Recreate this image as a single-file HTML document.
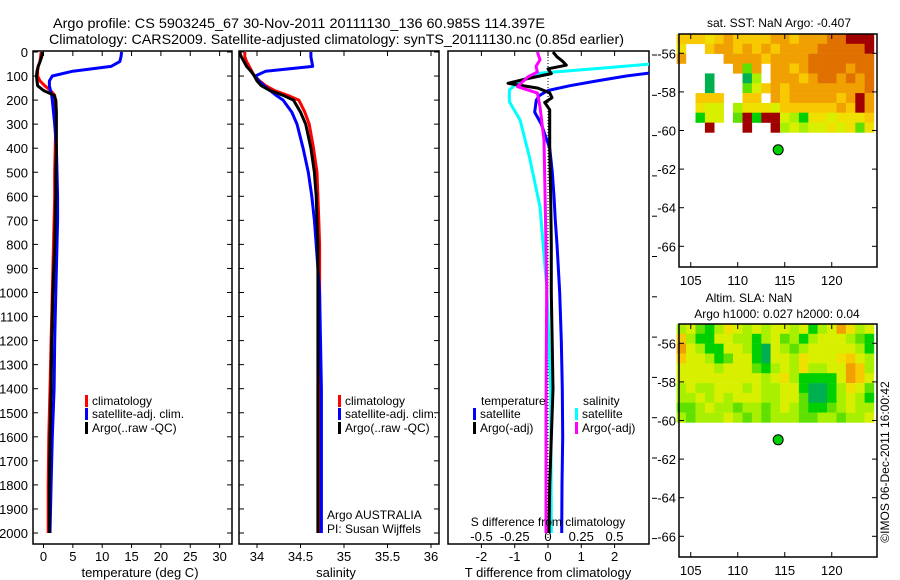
<!DOCTYPE html>
<html><head><meta charset="utf-8"><style>
html,body{margin:0;padding:0;background:#fff;}
svg{display:block;font-family:"Liberation Sans",sans-serif;}
</style></head><body>
<svg id="chart" width="900" height="580" viewBox="0 0 900 580" xmlns="http://www.w3.org/2000/svg">
<defs>
<clipPath id="c1"><rect x="33" y="51" width="199" height="493"/></clipPath>
<clipPath id="c2"><rect x="239" y="51" width="200" height="493"/></clipPath>
<clipPath id="c3"><rect x="448" y="51" width="201" height="493"/></clipPath>
</defs>
<text x="53" y="28" font-size="14" textLength="492" lengthAdjust="spacingAndGlyphs">Argo profile: CS 5903245_67 30-Nov-2011 20111130_136 60.985S 114.397E</text>
<text x="49" y="44" font-size="14" textLength="575" lengthAdjust="spacingAndGlyphs">Climatology: CARS2009. Satellite-adjusted climatology: synTS_20111130.nc (0.85d earlier)</text>
<g id="g1"></g><g id="g2"></g><g id="g3"></g><g id="gm"></g>
<text transform="translate(889,462) rotate(-90)" font-size="12" text-anchor="middle">©IMOS 06-Dec-2011 16:00:42</text>
</svg>
<script>
// ---- profile data ----
const depths = [0,20,40,60,80,100,120,140,160,180,200,250,300,400,500,600,700,800,1000,1200,1400,1600,1800,2000];
const tempClim = [-0.4,-0.5,-0.6,-0.9,-1.0,-1.0,-0.6,0.2,1.2,1.9,2.0,2.1,2.1,2.0,1.9,1.9,1.8,1.7,1.5,1.3,1.1,0.9,0.8,0.8];
const tempArgo = [-0.2,-0.3,-0.6,-0.9,-1.1,-1.2,-1.1,-1.0,0.0,1.8,2.1,2.2,2.2,2.2,2.1,2.1,2.0,1.9,1.6,1.4,1.3,1.1,1.0,1.0];
const tempSat = [13.3,13.2,13.0,11.5,5.0,1.5,1.0,1.0,1.2,1.4,1.5,1.7,1.9,2.2,2.3,2.4,2.4,2.3,2.1,1.9,1.8,1.5,1.3,1.1];
const salClim = [33.86,33.86,33.88,33.91,33.94,33.97,34.03,34.1,34.2,34.35,34.48,34.55,34.6,34.65,34.69,34.7,34.71,34.72,34.72,34.72,34.72,34.71,34.71,34.71];
const salArgo = [33.8,33.82,33.85,33.88,33.93,33.97,34.0,34.05,34.15,34.3,34.42,34.5,34.56,34.62,34.66,34.68,34.69,34.7,34.7,34.7,34.7,34.7,34.7,34.7];
const salSat = [34.62,34.62,34.63,34.64,34.1,33.98,34.02,34.08,34.15,34.22,34.3,34.4,34.46,34.53,34.59,34.63,34.66,34.68,34.72,34.73,34.74,34.74,34.74,34.74];
const dTSat = [9,9,9,6,3.5,2.35,1.47,0.66,0,-0.25,-0.35,-0.4,-0.2,0.05,0.13,0.18,0.22,0.27,0.35,0.4,0.43,0.44,0.42,0.41];
const dArgoDepths = [0,20,40,55,70,90,110,130,150,170,190,210,240,300,400,600,800,1000,1400,1800,2000];
const dTArgo = [0.15,0.27,0.45,0.55,0.0,0.1,-0.6,-1.2,-0.3,0.05,0.12,-0.1,0.05,0.05,0.05,0.08,0.1,0.1,0.15,0.05,0.03];
const dSSatDepths = [0,30,50,70,89,124,158,207,283,436,644,978,1400,2000];
const dSSat = [1.5,1.2,0.77,0.35,-0.08,-0.22,-0.29,-0.29,-0.21,-0.14,-0.06,-0.01,0.02,0.025];
const dSArgoDepths = [0,33,60,83,103,144,171,228,366,644,978,1500,2000];
const dSArgo = [-0.08,-0.06,-0.09,-0.08,-0.15,-0.23,-0.08,-0.06,-0.03,-0.02,-0.01,-0.015,-0.015];
const depthTicks = [0,100,200,300,400,500,600,700,800,900,1000,1100,1200,1300,1400,1500,1600,1700,1800,1900,2000];
const tempTicks = [0,5,10,15,20,25,30];
const salTicks = [34,34.5,35,35.5,36];
const dTTicks = [-2,-1,0,1,2];
const dSTicks = [-0.5,-0.25,0,0.25,0.5];
// ---- map data (rows lat -55 .. -60 step 0.5, cols lon 104..124) ----
const mapLons = [104,105,106,107,108,109,110,111,112,113,114,115,116,117,118,119,120,121,122,123,124];
const mapLatTicks = [-56,-58,-60,-62,-64,-66];
const mapLonTicks = [105,110,115,120];
const argoLon = 114.3, argoLat = -61;
const sstGrid = [
[6,6,6,5,6,7,6,6,6,6,7,7,6,7,7,7,8,8,9,9,9],
[5,-1,-1,6,7,7,6,7,6,7,6,7,7,7,7,8,8,8,8,8,9],
[7,-1,-1,-1,-1,7,7,7,7,6,7,7,7,7,8,8,8,8,8,8,8],
[-1,-1,-1,-1,-1,-1,7,2,7,-1,7,7,6,7,8,8,8,8,7,8,8],
[-1,-1,-1,0,-1,-1,-1,0,3,-1,7,7,7,6,7,8,8,7,8,7,8],
[-1,-1,-1,0,-1,-1,-1,2,4,6,7,6,7,7,7,7,7,7,7,7,8],
[-1,-1,6,6,6,-1,-1,6,6,-1,7,6,7,7,7,7,7,6,7,9,7],
[-1,-1,5,4,4,-1,3,5,5,5,4,6,6,6,6,6,6,7,6,9,7],
[-1,-1,1,4,4,-1,2,9,1,9,9,4,3,1,5,5,4,5,5,5,6],
[-1,-1,-1,9,-1,-1,-1,9,-1,-1,9,3,4,3,4,4,5,4,5,2,5]];
const slaGrid = [
[3,4,2,1,3,5,4,3,4,3,4,4,3,4,1,3,4,7,5,3,4],
[6,3,1,1,4,4,3,3,1,3,4,2,3,1,3,4,4,4,3,2,1],
[7,4,3,1,1,4,4,3,1,0,4,3,2,3,4,4,4,4,4,3,1],
[6,4,4,3,1,2,4,4,1,0,4,4,3,5,4,4,4,5,6,4,3],
[4,4,4,4,3,4,4,4,2,1,3,4,3,5,3,3,4,4,7,6,3],
[4,4,4,4,4,4,4,4,4,3,4,5,3,1,1,1,1,4,7,6,4],
[3,4,3,3,4,4,4,3,4,3,3,4,4,1,0,0,1,3,5,4,2],
[3,3,4,3,4,3,4,4,4,3,3,4,4,2,0,0,1,3,4,3,1],
[2,2,3,4,3,3,2,3,3,2,3,4,3,2,1,1,2,3,4,3,3],
[3,2,3,3,3,4,3,2,3,2,3,3,3,2,2,3,3,2,3,3,4]];
const palette = ['#00b050','#00d000','#60e000','#a8f000','#d8f000','#f0e000','#f8c800','#f0a000','#e07000','#a00000'];

const NS='http://www.w3.org/2000/svg';
function el(parent,tag,attrs,txt){const e=document.createElementNS(NS,tag);for(const k in attrs)e.setAttribute(k,attrs[k]);if(txt!==undefined)e.textContent=txt;parent.appendChild(e);return e;}
const TOP=51,BOT=544;
function yD(d){return 52+d*0.2405;}
function xT(t){return 43.5+t*5.87;}
function xS(s){return 257+(s-34)*87;}
function xDT(v){return 548+v*33.3;}
function xDS(v){return 548+v*133;}

function panel(g,x0,x1,name){
  const r=el(g,'rect',{x:x0,y:TOP,width:x1-x0,height:BOT-TOP,fill:'none',stroke:'#000','stroke-width':1.5});
  
  
  for(const d of depthTicks){
    const y=yD(d);
    el(g,'line',{x1:x0,x2:x0+5,y1:y,y2:y,stroke:'#000'});
    el(g,'line',{x1:x1-5,x2:x1,y1:y,y2:y,stroke:'#000'});
  }
}
function line(g,xs,ds,fx,color,clip,name,w){
  const pts=xs.map((v,i)=>fx(v).toFixed(1)+','+yD(ds[i]).toFixed(1)).join(' ');
  const p=el(g,'polyline',{points:pts,fill:'none',stroke:color,'stroke-width':w||3,'clip-path':'url(#'+clip+')','stroke-linejoin':'round'});
  
  
}
function xticks(g,ticks,fx,y,name,top){
  for(const t of ticks){
    const x=fx(t);
    el(g,'line',{x1:x,x2:x,y1:BOT,y2:BOT+4,stroke:'#000'});
    if(top) el(g,'line',{x1:x,x2:x,y1:TOP,y2:TOP+5,stroke:'#000'});
    const tx=el(g,'text',{x:x,y:y,'font-size':13,'text-anchor':'middle'},String(t));
    
    
  }
}
function legend(g,x,y,color,label){
  el(g,'rect',{x:x,y:y-10,width:3,height:12,fill:color});
  const t=el(g,'text',{x:x+7,y:y,'font-size':12},label);
  
  
}

// Panel 1
const g1=document.getElementById('g1');
panel(g1,33,232,'temperature-panel');
for(const d of depthTicks){
  const t=el(g1,'text',{x:28,y:yD(d)+5,'font-size':13,'text-anchor':'end'},String(d));
  
  
}
xticks(g1,tempTicks,xT,561,'temperature',true);
line(g1,tempClim,depths,xT,'#ff0000','c1','temp-climatology-line');
line(g1,tempSat,depths,xT,'#0000ff','c1','temp-satellite-line');
line(g1,tempArgo,depths,xT,'#000000','c1','temp-argo-line');
legend(g1,85,405,'#ff0000','climatology');
legend(g1,85,418,'#0000ff','satellite-adj. clim.');
legend(g1,85,432,'#000000','Argo(..raw -QC)');
let t=el(g1,'text',{x:140,y:577,'font-size':13,'text-anchor':'middle'},'temperature (deg C)');



// Panel 2
const g2=document.getElementById('g2');
panel(g2,239,439,'salinity-panel');
xticks(g2,salTicks,xS,561,'salinity',true);
line(g2,salClim,depths,xS,'#ff0000','c2','sal-climatology-line');
line(g2,salSat,depths,xS,'#0000ff','c2','sal-satellite-line');
line(g2,salArgo,depths,xS,'#000000','c2','sal-argo-line');
legend(g2,338,405,'#ff0000','climatology');
legend(g2,338,418,'#0000ff','satellite-adj. clim.');
legend(g2,338,432,'#000000','Argo(..raw -QC)');
t=el(g2,'text',{x:327,y:519,'font-size':12},'Argo AUSTRALIA');


t=el(g2,'text',{x:327,y:533,'font-size':12},'PI: Susan Wijffels');


t=el(g2,'text',{x:336,y:577,'font-size':13,'text-anchor':'middle'},'salinity');



// Panel 3
const g3=document.getElementById('g3');
let fr=el(g3,'rect',{x:448,y:TOP,width:201,height:BOT-TOP,fill:'none',stroke:'#000','stroke-width':1.5});


for(let i=0;i<13;i++){const y=55+i*40.3;el(g3,'line',{x1:652,x2:657,y1:y,y2:y,stroke:'#000'});}
el(g3,'line',{x1:548,x2:548,y1:TOP,y2:BOT,stroke:'#000','stroke-dasharray':'1,2'});
xticks(g3,dTTicks,xDT,561,'t-difference',true);
for(const s of dSTicks){
  const tx=el(g3,'text',{x:xDS(s),y:541,'font-size':13,'text-anchor':'middle'},String(s));
  
  
}
line(g3,dSSat,dSSatDepths,xDS,'#00ffff','c3','s-diff-satellite-line');
line(g3,dTSat,depths,xDT,'#0000ff','c3','t-diff-satellite-line');
line(g3,dTArgo,dArgoDepths,xDT,'#000000','c3','t-diff-argo-line');
line(g3,dSArgo,dSArgoDepths,xDS,'#ff00ff','c3','s-diff-argo-line');
t=el(g3,'text',{x:481,y:405,'font-size':12},'temperature');


t=el(g3,'text',{x:583,y:405,'font-size':12},'salinity');


legend(g3,473,418,'#0000ff','satellite');
legend(g3,473,432,'#000000','Argo(-adj)');
legend(g3,575,418,'#00ffff','satellite');
legend(g3,575,432,'#ff00ff','Argo(-adj)');
t=el(g3,'text',{x:548,y:526,'font-size':12,'text-anchor':'middle'},'S difference from climatology');


t=el(g3,'text',{x:548,y:577,'font-size':13,'text-anchor':'middle'},'T difference from climatology');



// Maps
const gm=document.getElementById('gm');
function mx(lon){return 679+(lon-103.75)*9.4;}
function drawMap(y0,grid,name){
  function my(lat){return y0+(-55-lat)*19.3;}
  for(let r=0;r<grid.length;r++){
    for(let c=0;c<grid[r].length;c++){
      const v=grid[r][c];
      if(v<0) continue;
      const cell=el(gm,'rect',{x:mx(mapLons[c]-0.5).toFixed(1),y:my(-55-r*0.51).toFixed(1),width:9.6,height:10.1,fill:palette[v]});
      
      
    }
  }
  const f=el(gm,'rect',{x:679,y:y0,width:198,height:233,fill:'none',stroke:'#000','stroke-width':1.5});
  
  
  for(const la of mapLatTicks){
    const y=my(la);
    el(gm,'line',{x1:679,x2:684,y1:y,y2:y,stroke:'#000'});
    el(gm,'line',{x1:872,x2:877,y1:y,y2:y,stroke:'#000'});
    const tx=el(gm,'text',{x:676,y:y+5,'font-size':13,'text-anchor':'end'},String(la));
    
    
  }
  for(const lo of mapLonTicks){
    const x=mx(lo);
    el(gm,'line',{x1:x,x2:x,y1:y0,y2:y0+5,stroke:'#000'});
    el(gm,'line',{x1:x,x2:x,y1:y0+228,y2:y0+233,stroke:'#000'});
    const tx=el(gm,'text',{x:x,y:y0+251,'font-size':13,'text-anchor':'middle'},String(lo));
    
    
  }
  const dot=el(gm,'circle',{cx:mx(argoLon),cy:my(argoLat),r:5,fill:'#00d000',stroke:'#000','stroke-width':1});
  
  
}
drawMap(34,sstGrid,'sst-map');
drawMap(324,slaGrid,'sla-map');
t=el(gm,'text',{x:779,y:27,'font-size':12,'text-anchor':'middle'},'sat. SST: NaN Argo: -0.407');


t=el(gm,'text',{x:749,y:302,'font-size':12,'text-anchor':'middle'},'Altim. SLA: NaN');


t=el(gm,'text',{x:777,y:318,'font-size':12,'text-anchor':'middle'},'Argo h1000: 0.027 h2000: 0.04');


</script>
</body></html>
